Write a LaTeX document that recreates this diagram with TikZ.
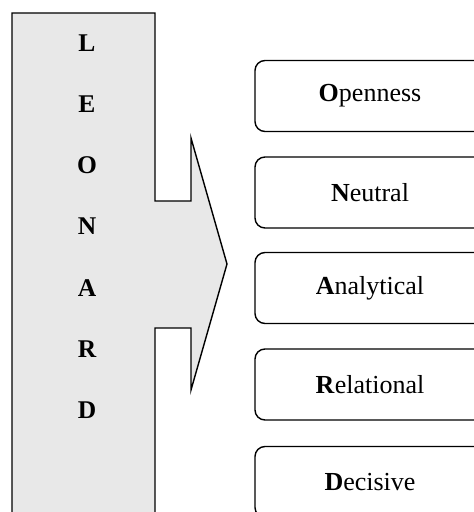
\documentclass[tikz,border=0pt]{standalone}
\usepackage{fontspec}
\setmainfont{Liberation Serif}
\definecolor{arrowgray}{RGB}{232,232,232}
\tikzset{
  trait/.style={draw, line width=0.7pt, rounded corners=5pt,
    minimum width=115pt, minimum height=35.5pt, inner sep=0pt},
  letter/.style={font=\fontsize{12.75}{15}\selectfont\bfseries}
}
\begin{document}
\begin{tikzpicture}[x=0.5pt, y=-0.5pt, font=\fontsize{13}{15}\selectfont]
    \useasboundingbox (0, 0) rectangle (474, 512);
    \clip (0, 0) rectangle (474, 512);
    % arrow
    \draw [fill=arrowgray, line width=0.7pt] (12, 520)
    -- (12, 13)
    -- (155, 13)
    -- (155, 201)
    -- (191, 201)
    -- (191, 138)
    -- (227, 264)
    -- (191, 390)
    -- (191, 328)
    -- (155, 328)
    -- (155, 520);
    % letters
    \foreach \ch [count=\i from 0] in {L, E, O, N, A, R, D}
        \node [letter] (ch\i) at (87, 43 + 61.2*\i) {\ch};
    % traits
    \node [trait] (open) at (370, 96) {\textbf{O}penness};
    \node [trait] (neut) at (370, 192.5) {\textbf{N}eutral};
    \node [trait] (anal) at (370, 288) {\textbf{A}nalytical};
    \node [trait] (rela) at (370, 384.5) {\textbf{R}elational};
    \node [trait] (deci) at (370, 482) {\textbf{D}ecisive};
\end{tikzpicture}
\end{document}
